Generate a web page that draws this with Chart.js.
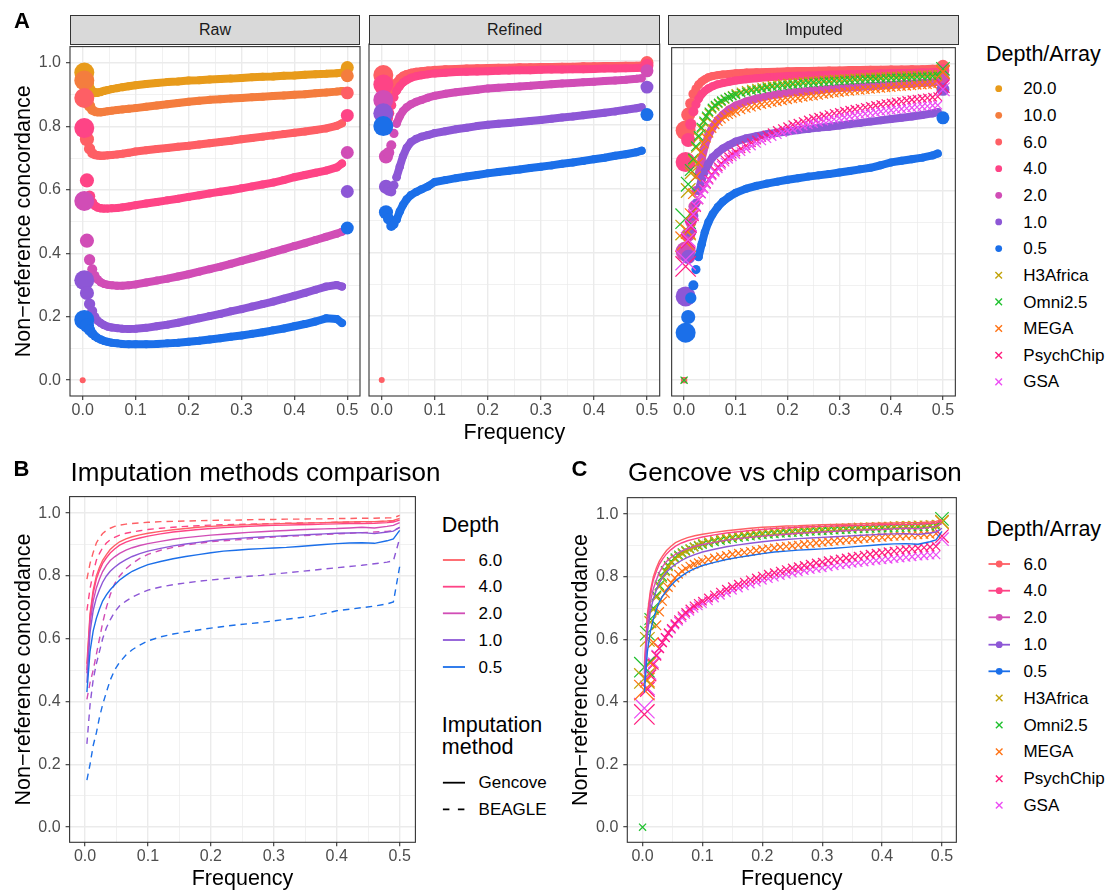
<!DOCTYPE html>
<html><head><meta charset="utf-8">
<script src="https://cdn.jsdelivr.net/npm/chart.js@4.4.0/dist/chart.umd.min.js"></script>
<style>
html,body{margin:0;padding:0;background:#fff;overflow:hidden;}
#fig{position:relative;width:1107px;height:890px;overflow:hidden;font-family:"Liberation Sans",Arial,Helvetica,sans-serif;}
#fig canvas{position:absolute;}
.t{position:absolute;white-space:nowrap;line-height:1;color:#000;}
.strip{position:absolute;box-sizing:border-box;background:#D9D9D9;border:1.1px solid #333;}
</style></head><body><div id="fig"></div>
<script>
// ---------------- DATA ----------------
const FREQ = [0.003,0.008,0.013,0.018,0.023,0.028,0.034,0.04,0.047,0.055,0.065,0.075,0.087,0.1,0.12,0.14,0.16,0.18,0.2,0.22,0.24,0.26,0.28,0.3,0.32,0.34,0.36,0.38,0.4,0.42,0.44,0.46,0.48,0.49,0.5];
// number of sites per frequency bin (thousands) -> point size
const SITES = [100,50,32,25,21,19,18,17,16.5,16,16,16,16,16,16,16,16,16,16,16,16,16,16,16,16,16,16,16,16,16,16,16,16,16,42];
// frequency bins of the genotyping-array series (finer)
const CHIP_FREQ = [0.003,0.008,0.013,0.018,0.023,0.028,0.033,0.038,0.043,0.048,0.054,0.06,0.066,0.072,0.079,0.086,0.093,0.1,
  0.11,0.12,0.13,0.14,0.15,0.16,0.17,0.18,0.19,0.2,0.21,0.22,0.23,0.24,0.25,0.26,0.27,0.28,0.29,0.3,
  0.31,0.32,0.33,0.34,0.35,0.36,0.37,0.38,0.39,0.4,0.41,0.42,0.43,0.44,0.45,0.46,0.47,0.48,0.49,0.5];
const CHIP_SITES = [100,50,32,25,21,19,18,17,16.5,16,16,16,16,16,16,16,16,16,
  16,16,16,16,16,16,16,16,16,16,16,16,16,16,16,16,16,16,16,16,
  16,16,16,16,16,16,16,16,16,16,16,16,16,16,16,16,16,16,16,42];
const ZERO_X = [0];
const ZERO_Y = [0];
const DEPTH_LABELS = ['20.0','10.0','6.0','4.0','2.0','1.0','0.5'];
const ARRAY_LABELS = ['H3Africa','Omni2.5','MEGA','PsychChip','GSA'];
const X_TICKS = [0,0.05,0.1,0.15,0.2,0.25,0.3,0.35,0.4,0.45,0.5];
const Y_TICKS = [0,0.1,0.2,0.3,0.4,0.5,0.6,0.7,0.8,0.9,1.0];

// Raw
const raw20 = [0.970,0.935,0.918,0.910,0.907,0.907,0.909,0.912,0.915,0.918,0.921,0.924,0.927,0.930,0.934,0.937,0.940,0.942,0.945,0.946,0.948,0.950,0.951,0.953,0.955,0.957,0.958,0.960,0.961,0.963,0.965,0.966,0.968,0.970,0.986];
const raw10 = [0.945,0.890,0.865,0.852,0.847,0.845,0.845,0.846,0.848,0.850,0.852,0.854,0.856,0.858,0.862,0.866,0.870,0.874,0.878,0.881,0.884,0.886,0.888,0.890,0.892,0.894,0.896,0.898,0.900,0.902,0.905,0.907,0.910,0.912,0.960];
const raw6  = [0.890,0.760,0.730,0.716,0.711,0.709,0.708,0.708,0.709,0.710,0.712,0.714,0.717,0.721,0.725,0.729,0.732,0.736,0.739,0.743,0.747,0.751,0.755,0.760,0.764,0.768,0.772,0.776,0.780,0.784,0.789,0.794,0.802,0.810,0.906];
const raw4  = [0.795,0.630,0.580,0.560,0.550,0.545,0.542,0.541,0.541,0.542,0.543,0.545,0.548,0.552,0.557,0.562,0.567,0.572,0.578,0.583,0.589,0.594,0.599,0.605,0.611,0.617,0.623,0.631,0.640,0.647,0.654,0.661,0.671,0.683,0.835];
const raw2  = [0.565,0.440,0.380,0.350,0.330,0.318,0.309,0.304,0.301,0.299,0.298,0.298,0.299,0.302,0.308,0.314,0.320,0.327,0.334,0.342,0.350,0.358,0.367,0.376,0.385,0.394,0.404,0.413,0.423,0.432,0.442,0.452,0.462,0.468,0.718];
const raw1  = [0.315,0.275,0.240,0.218,0.200,0.188,0.180,0.174,0.169,0.166,0.164,0.162,0.161,0.162,0.165,0.170,0.175,0.181,0.188,0.195,0.202,0.209,0.217,0.224,0.232,0.240,0.248,0.257,0.266,0.275,0.285,0.295,0.300,0.295,0.595];
const raw05 = [0.190,0.172,0.158,0.147,0.139,0.133,0.128,0.124,0.121,0.118,0.116,0.114,0.113,0.113,0.113,0.114,0.116,0.118,0.121,0.124,0.128,0.132,0.137,0.141,0.146,0.151,0.157,0.163,0.170,0.177,0.185,0.195,0.193,0.180,0.480];
// Refined
const ref6  = [0.955,0.935,0.915,0.900,0.915,0.932,0.945,0.953,0.958,0.962,0.965,0.967,0.969,0.971,0.973,0.974,0.975,0.976,0.977,0.978,0.978,0.979,0.979,0.980,0.980,0.981,0.981,0.982,0.982,0.983,0.983,0.984,0.984,0.985,0.994];
const ref4  = [0.925,0.820,0.835,0.860,0.885,0.905,0.920,0.931,0.939,0.946,0.951,0.954,0.957,0.960,0.962,0.964,0.965,0.966,0.967,0.968,0.969,0.970,0.970,0.971,0.972,0.972,0.973,0.973,0.974,0.975,0.975,0.976,0.977,0.978,0.985];
const ref2  = [0.877,0.700,0.712,0.735,0.772,0.803,0.826,0.842,0.854,0.863,0.871,0.877,0.884,0.890,0.896,0.901,0.905,0.909,0.913,0.915,0.917,0.919,0.921,0.924,0.926,0.928,0.930,0.932,0.934,0.936,0.938,0.940,0.943,0.945,0.968];
const ref1  = [0.835,0.605,0.595,0.590,0.610,0.635,0.668,0.700,0.727,0.745,0.755,0.762,0.767,0.773,0.779,0.785,0.790,0.795,0.799,0.802,0.805,0.808,0.811,0.814,0.818,0.822,0.825,0.829,0.833,0.837,0.841,0.846,0.851,0.854,0.917];
const ref05 = [0.795,0.525,0.505,0.482,0.488,0.502,0.528,0.548,0.566,0.579,0.589,0.597,0.606,0.620,0.626,0.632,0.637,0.642,0.647,0.651,0.655,0.659,0.664,0.668,0.672,0.677,0.681,0.686,0.691,0.696,0.702,0.707,0.713,0.718,0.831];
// Imputed with BEAGLE (panel A "Imputed" and dashed lines in B)
const beagle6  = [0.790,0.840,0.875,0.905,0.922,0.935,0.945,0.952,0.958,0.962,0.965,0.967,0.969,0.971,0.973,0.974,0.975,0.976,0.977,0.978,0.978,0.979,0.980,0.980,0.981,0.981,0.982,0.982,0.983,0.983,0.984,0.984,0.985,0.985,0.993];
const beagle4  = [0.690,0.760,0.810,0.850,0.872,0.890,0.905,0.915,0.923,0.930,0.936,0.940,0.944,0.948,0.952,0.955,0.958,0.960,0.962,0.963,0.964,0.965,0.966,0.967,0.968,0.969,0.969,0.970,0.971,0.972,0.972,0.973,0.974,0.975,0.980];
const beagle2  = [0.407,0.460,0.500,0.550,0.600,0.650,0.700,0.740,0.775,0.800,0.823,0.840,0.856,0.869,0.882,0.891,0.898,0.904,0.909,0.912,0.915,0.918,0.921,0.924,0.926,0.928,0.930,0.932,0.934,0.936,0.938,0.940,0.942,0.944,0.955];
const beagle1  = [0.265,0.390,0.470,0.520,0.560,0.600,0.635,0.660,0.685,0.705,0.720,0.733,0.744,0.755,0.765,0.772,0.778,0.783,0.787,0.791,0.795,0.799,0.802,0.806,0.810,0.814,0.818,0.822,0.826,0.830,0.834,0.839,0.844,0.848,0.920];
const beagle05 = [0.150,0.200,0.260,0.300,0.350,0.390,0.430,0.468,0.500,0.525,0.548,0.565,0.580,0.593,0.606,0.615,0.622,0.628,0.634,0.639,0.644,0.648,0.652,0.657,0.662,0.667,0.672,0.680,0.689,0.694,0.699,0.704,0.711,0.717,0.830];
// Genotyping arrays (on CHIP_FREQ)
const h3africa  = [0.475,0.600,0.655,0.695,0.735,0.768,0.795,0.816,0.832,0.845,0.857,0.866,0.874,0.881,0.888,0.895,0.901,0.907,
  0.912,0.917,0.921,0.924,0.927,0.930,0.933,0.935,0.938,0.940,0.941,0.943,0.945,0.946,0.947,0.948,0.950,0.951,0.952,0.953,
  0.954,0.955,0.956,0.957,0.958,0.959,0.959,0.960,0.961,0.962,0.962,0.963,0.964,0.964,0.965,0.966,0.966,0.967,0.968,0.975];
const omni25    = [0.511,0.620,0.665,0.700,0.740,0.773,0.800,0.820,0.836,0.849,0.861,0.870,0.877,0.884,0.890,0.895,0.899,0.903,
  0.908,0.912,0.916,0.919,0.922,0.925,0.928,0.930,0.932,0.934,0.936,0.937,0.939,0.940,0.941,0.942,0.944,0.945,0.946,0.947,
  0.948,0.949,0.950,0.951,0.952,0.953,0.953,0.954,0.955,0.956,0.956,0.957,0.957,0.958,0.959,0.960,0.960,0.961,0.962,0.985];
const mega      = [0.438,0.470,0.525,0.590,0.645,0.688,0.722,0.747,0.766,0.781,0.796,0.808,0.818,0.826,0.834,0.840,0.845,0.850,
  0.855,0.860,0.864,0.868,0.872,0.875,0.878,0.881,0.884,0.887,0.890,0.892,0.895,0.897,0.899,0.901,0.904,0.906,0.908,0.910,
  0.912,0.914,0.916,0.917,0.919,0.920,0.922,0.923,0.925,0.926,0.928,0.929,0.930,0.931,0.933,0.934,0.935,0.936,0.938,0.975];
const psychchip = [0.360,0.440,0.485,0.520,0.548,0.571,0.590,0.606,0.621,0.635,0.650,0.663,0.675,0.686,0.697,0.707,0.715,0.722,
  0.732,0.742,0.751,0.760,0.768,0.776,0.783,0.790,0.796,0.802,0.808,0.813,0.818,0.823,0.828,0.832,0.836,0.840,0.844,0.847,
  0.851,0.854,0.857,0.860,0.863,0.866,0.869,0.872,0.875,0.877,0.880,0.882,0.885,0.887,0.889,0.891,0.893,0.895,0.897,0.930];
const gsa       = [0.380,0.445,0.490,0.525,0.551,0.572,0.590,0.605,0.619,0.632,0.646,0.658,0.669,0.680,0.690,0.699,0.707,0.714,
  0.723,0.732,0.741,0.749,0.757,0.764,0.771,0.777,0.783,0.789,0.794,0.799,0.804,0.808,0.812,0.816,0.820,0.823,0.826,0.829,
  0.832,0.835,0.838,0.840,0.843,0.845,0.847,0.850,0.852,0.854,0.856,0.858,0.860,0.862,0.864,0.866,0.867,0.869,0.870,0.920];
// Imputed with Gencove (solid lines in B, lines in C)
const gencove6  = [0.520,0.680,0.755,0.800,0.828,0.850,0.868,0.884,0.897,0.909,0.918,0.925,0.931,0.936,0.942,0.947,0.951,0.955,0.958,0.960,0.962,0.963,0.965,0.966,0.967,0.968,0.969,0.970,0.971,0.972,0.973,0.973,0.975,0.977,0.983];
const gencove4  = [0.500,0.670,0.745,0.790,0.817,0.840,0.858,0.873,0.886,0.898,0.908,0.915,0.921,0.927,0.934,0.940,0.944,0.948,0.951,0.954,0.956,0.958,0.960,0.961,0.962,0.963,0.964,0.965,0.966,0.967,0.967,0.968,0.970,0.972,0.978];
const gencove2  = [0.490,0.650,0.720,0.762,0.790,0.814,0.834,0.849,0.861,0.872,0.882,0.890,0.897,0.903,0.910,0.917,0.922,0.926,0.930,0.933,0.936,0.939,0.941,0.943,0.945,0.947,0.949,0.950,0.951,0.953,0.955,0.953,0.958,0.961,0.970];
const gencove1  = [0.460,0.620,0.690,0.730,0.757,0.780,0.800,0.815,0.828,0.840,0.852,0.862,0.871,0.879,0.888,0.896,0.902,0.907,0.912,0.916,0.919,0.922,0.924,0.926,0.928,0.930,0.932,0.934,0.936,0.937,0.938,0.935,0.940,0.943,0.955];
const gencove05 = [0.430,0.560,0.625,0.665,0.695,0.720,0.740,0.756,0.771,0.787,0.802,0.815,0.826,0.836,0.846,0.855,0.862,0.868,0.874,0.879,0.882,0.885,0.887,0.889,0.891,0.894,0.897,0.900,0.903,0.905,0.906,0.904,0.912,0.918,0.945];

// ---------------- STYLE ----------------
const FONT = '"Liberation Sans", Arial, Helvetica, sans-serif';
const COL = {d20:'#E89B1B', d10:'#F47D3E', d6:'#FE5F65', d4:'#FE4486', d2:'#D14DB6', d1:'#8D57D6', d05:'#1B6FE9',
             h3:'#C2A30A', omni:'#21C130', mega:'#FF7315', psych:'#FF1C7E', gsa:'#EC4DF4'};
const DEPTH_COLS = [COL.d20, COL.d10, COL.d6, COL.d4, COL.d2, COL.d1, COL.d05];
const ARRAY_COLS = [COL.h3, COL.omni, COL.mega, COL.psych, COL.gsa];
const LAST = FREQ.length - 1;
Chart.defaults.font.family = FONT;
const fig = document.getElementById('fig');

function pts(arr, xs){ xs = xs || FREQ; return xs.map((f,i)=>({x:f, y:arr[i]})); }
function dotR(i){ return Math.sqrt(SITES[i]); }
function band(arr, color, order){
  return {data: pts(arr), showLine:true, borderColor:color, backgroundColor:color,
    pointBackgroundColor:color, pointBorderColor:color, pointBorderWidth:0, pointStyle:'circle',
    borderWidth:8, borderCapStyle:'round', borderJoinStyle:'round', tension:0,
    pointRadius: c => dotR(c.dataIndex),
    segment:{borderColor: c => (c.p0DataIndex >= 5 && c.p1DataIndex <= LAST-1) ? color : 'rgba(0,0,0,0)'},
    order};
}
function crosses(arr, color, order){
  return {data: pts(arr, CHIP_FREQ), showLine:false, pointStyle:'crossRot', pointBorderColor:color, backgroundColor:color,
    pointBorderWidth:1.25, pointRadius: c => 1.4*Math.sqrt(CHIP_SITES[c.dataIndex]) + 0.4, order};
}
function line(arr, color, order, dashed){
  return {data: pts(arr), showLine:true, borderColor:color, borderWidth:1.4, pointRadius:0,
    borderDash: dashed ? [6.5,5] : [], tension:0, order};
}
function zeroDot(color, r, style, order){
  return {data: ZERO_X.map((x,i)=>({x, y:ZERO_Y[i]})), showLine:false, pointStyle:style,
    pointBackgroundColor:color, pointBorderColor:color, pointBorderWidth: style==='circle'?0:1.3, pointRadius:r, order};
}

const boxPlugin = {id:'box', afterDatasetsDraw(chart){
  const {ctx, chartArea:a} = chart; ctx.save(); ctx.strokeStyle='#333333'; ctx.lineWidth=1.1;
  ctx.strokeRect(a.left, a.top, a.right-a.left, a.bottom-a.top); ctx.restore(); }};

function makeChart(s){
  const PAD = 12;
  const cl = s.l - s.yW - PAD, ct = s.t - PAD;
  const W = Math.ceil(s.r - cl + PAD), H = Math.ceil(s.b - ct + s.xH + PAD);
  const cv = document.createElement('canvas');
  cv.width = W; cv.height = H;
  cv.style.left = cl+'px'; cv.style.top = ct+'px'; cv.style.width = W+'px'; cv.style.height = H+'px';
  fig.appendChild(cv);
  const padR = W - (s.r - cl), padB = H - (s.b - ct) - s.xH;
  const tickFont = {family:FONT, size:16};
  const titleFont = {family:FONT, size:21.5, lineHeight:1};
  new Chart(cv.getContext('2d'), {
    type:'scatter',
    data:{datasets:s.datasets},
    options:{
      responsive:false, animation:false, devicePixelRatio:1, events:[],
      layout:{padding:{left:PAD, top:PAD, right:padR, bottom:padB}},
      plugins:{legend:{display:false}, tooltip:{enabled:false}},
      scales:{
        x:{type:'linear', position:'bottom', min:s.xMin, max:s.xMax,
          afterBuildTicks: sc => { sc.ticks = X_TICKS.map(v=>({value:v})); },
          afterFit: sc => { sc.height = s.xH; },
          ticks:{autoSkip:false, maxRotation:0, minRotation:0, padding:1, color:'#4D4D4D', font:tickFont,
            callback:(v,i)=> i%2===0 ? X_TICKS[i].toFixed(1) : ''},
          grid:{color:'#EBEBEB', lineWidth: c => c.index%2===0 ? 1.4 : 0.7, drawTicks:true, tickLength:4,
            tickColor: c => c.index%2===0 ? '#333333' : 'rgba(0,0,0,0)', tickWidth:1.1},
          border:{display:false},
          title: s.xTitle ? {display:true, text:s.xTitle, color:'#000', font:titleFont, padding:{top:0, bottom:s.xTitlePad}} : {display:false}
        },
        y:{type:'linear', position:'left', min:s.yMin, max:s.yMax,
          afterBuildTicks: sc => { sc.ticks = Y_TICKS.map(v=>({value:v})); },
          afterFit: sc => { sc.width = s.yW; },
          ticks:{display: s.yLabels, autoSkip:false, padding:5, color:'#4D4D4D', font:tickFont,
            callback:(v,i)=> i%2===0 ? Y_TICKS[i].toFixed(1) : ''},
          grid:{color:'#EBEBEB', lineWidth: c => c.index%2===0 ? 1.4 : 0.7, drawTicks: s.yLabels, tickLength:4,
            tickColor: c => c.index%2===0 ? '#333333' : 'rgba(0,0,0,0)', tickWidth:1.1},
          border:{display:false},
          title: s.yTitle ? {display:true, text:s.yTitle, color:'#000', font:titleFont, padding:{top:s.yTitlePad, bottom:0}} : {display:false}
        }
      }
    },
    plugins:[boxPlugin]
  });
}

// ---------------- TEXT / LEGEND HELPERS ----------------
function txt(s, x, base, size, o={}){
  const d = document.createElement('div'); d.className='t'; d.textContent = s;
  d.style.fontSize = size+'px'; d.style.left = x+'px'; d.style.top = (base - 0.8465*size)+'px';
  if (o.bold) d.style.fontWeight = 'bold';
  if (o.color) d.style.color = o.color;
  if (o.center) d.style.transform = 'translateX(-50%)';
  fig.appendChild(d);
}
function strip(label, l, r){
  const d = document.createElement('div'); d.className='strip';
  d.style.left = l+'px'; d.style.top = '14.7px'; d.style.width = (r-l)+'px'; d.style.height = (44-14.7+1)+'px';
  fig.appendChild(d);
  txt(label, (l+r)/2, 36, 16, {center:true, color:'#1A1A1A'});
}
const NS = 'http://www.w3.org/2000/svg';
const svg = document.createElementNS(NS,'svg');
svg.setAttribute('width','1107'); svg.setAttribute('height','890');
svg.style.position='absolute'; svg.style.left='0'; svg.style.top='0'; svg.style.pointerEvents='none';
function sv(tag, attrs){ const e=document.createElementNS(NS,tag); for(const k in attrs) e.setAttribute(k, attrs[k]); svg.appendChild(e); }
function lgDot(x,y,c){ sv('circle',{cx:x, cy:y, r:3.4, fill:c}); }
function lgCross(x,y,c){ const h=3.3; sv('path',{d:`M${x-h} ${y-h}L${x+h} ${y+h}M${x-h} ${y+h}L${x+h} ${y-h}`, stroke:c, 'stroke-width':1.4, fill:'none'}); }
function lgLine(x1,x2,y,c,dash){ const a={x1, x2, y1:y, y2:y, stroke:c, 'stroke-width':1.8}; if(dash) a['stroke-dasharray']=dash; sv('line',a); }

// ---------------- PANEL A ----------------
const A = {t:44, b:396, xMin:-0.024, xMax:0.524, yMin:-0.05, yMax:1.052};
const rawSets = [raw20, raw10, raw6, raw4, raw2, raw1, raw05];
makeChart({...A, l:70, r:360, yW:58, xH:30, yLabels:true, yTitle:'Non\u2212reference concordance', yTitlePad:1.5,
  datasets:[zeroDot(COL.d6, 3, 'circle', -50), ...rawSets.map((a,i)=>band(a, DEPTH_COLS[i], -i))]});
const refSets = [ref6, ref4, ref2, ref1, ref05];
makeChart({...A, l:369.3, r:660, yW:0, xH:52, yLabels:false, xTitle:'Frequency', xTitlePad:4.25,
  datasets:[zeroDot(COL.d6, 3, 'circle', -50), ...refSets.map((a,i)=>band(a, DEPTH_COLS[i+2], -(i+2)))]});
const beagleSets = [beagle6, beagle4, beagle2, beagle1, beagle05];
const chipSets = [h3africa, omni25, mega, psychchip, gsa];
makeChart({...A, l:668.3, r:959.3, yW:0, xH:30, yLabels:false,
  datasets:[zeroDot(COL.omni, 5, 'crossRot', -60), zeroDot(COL.d6, 3.5, 'rect', -55),
    ...chipSets.map((a,i)=>crosses(a, ARRAY_COLS[i], -100-i)),
    ...beagleSets.map((a,i)=>band(a, DEPTH_COLS[i+2], -(i+2)))]});
strip('Raw', 70, 360); strip('Refined', 369.3, 660); strip('Imputed', 668.3, 959.3);
txt('A', 14, 28.3, 22, {bold:true});

// legend A
txt('Depth/Array', 986, 62.5, 21.5);
const lgA = [...DEPTH_LABELS.map((l,i)=>[l, DEPTH_COLS[i], 'dot']), ...ARRAY_LABELS.map((l,i)=>[l, ARRAY_COLS[i], 'x'])];
lgA.forEach((it,i)=>{ const y = 88.7 + 26.65*i; if(it[2]==='dot') lgDot(998.7,y,it[1]); else lgCross(998.7,y,it[1]); txt(it[0], 1023.3, y+6, 17); });

// ---------------- PANEL B ----------------
const BC = {t:494, b:842.3, yMin:-0.0484, yMax:1.0528};
const gencoveSets = [gencove6, gencove4, gencove2, gencove1, gencove05];
makeChart({...BC, l:69.6, r:415.4, xMin:-0.0245, xMax:0.525, yW:57.6, xH:52, yLabels:true,
  yTitle:'Non\u2212reference concordance', yTitlePad:1.2, xTitle:'Frequency', xTitlePad:4.05,
  datasets:[...gencoveSets.map((a,i)=>line(a, DEPTH_COLS[i+2], -(i+2), false)),
            ...beagleSets.map((a,i)=>line(a, DEPTH_COLS[i+2], 10-i, true))]});
txt('B', 13.6, 476.7, 22, {bold:true});
txt('Imputation methods comparison', 70.5, 480.7, 26);
txt('Depth', 441.8, 533.3, 21.5);
const lgBy = [560, 586.7, 613.3, 640, 667];
DEPTH_LABELS.slice(2).forEach((l,i)=>{ lgLine(442.9, 465, lgBy[i], DEPTH_COLS[i+2]); txt(l, 478.6, lgBy[i]+6, 17); });
txt('Imputation', 441.8, 732.7, 21.5);
txt('method', 441.8, 755.3, 21.5);
lgLine(442.9, 465, 782.7, '#000'); txt('Gencove', 478.6, 788.7, 17);
lgLine(442.9, 465, 809.3, '#000', '6.5,8.5'); txt('BEAGLE', 478.6, 815.3, 17);

// ---------------- PANEL C ----------------
makeChart({...BC, l:627.3, r:959.5, xMin:-0.0255, xMax:0.524, yW:57.3, xH:52, yLabels:true,
  yTitle:'Non\u2212reference concordance', yTitlePad:0.8, xTitle:'Frequency', xTitlePad:4.05,
  datasets:[...gencoveSets.map((a,i)=>line(a, DEPTH_COLS[i+2], -200-i, false)),
            zeroDot(COL.omni, 5, 'crossRot', -150),
            ...chipSets.map((a,i)=>crosses(a, ARRAY_COLS[i], -100+i))]});
txt('C', 571.5, 476.7, 22, {bold:true});
txt('Gencove vs chip comparison', 628, 480.7, 26);
txt('Depth/Array', 986.4, 537.3, 21.5);
const lgCy = [564, 590.7, 617.3, 644.7, 671.3, 698, 725, 751.7, 778.7, 805.3];
DEPTH_LABELS.slice(2).forEach((l,i)=>{ const y=lgCy[i]; lgLine(988.5, 1010, y, DEPTH_COLS[i+2]); lgDot(999.2, y, DEPTH_COLS[i+2]); txt(l, 1023.4, y+6, 17); });
ARRAY_LABELS.forEach((l,i)=>{ const y=lgCy[i+5]; lgCross(999.2, y, ARRAY_COLS[i]); txt(l, 1023.4, y+6, 17); });

fig.appendChild(svg);
</script>
</body></html>
